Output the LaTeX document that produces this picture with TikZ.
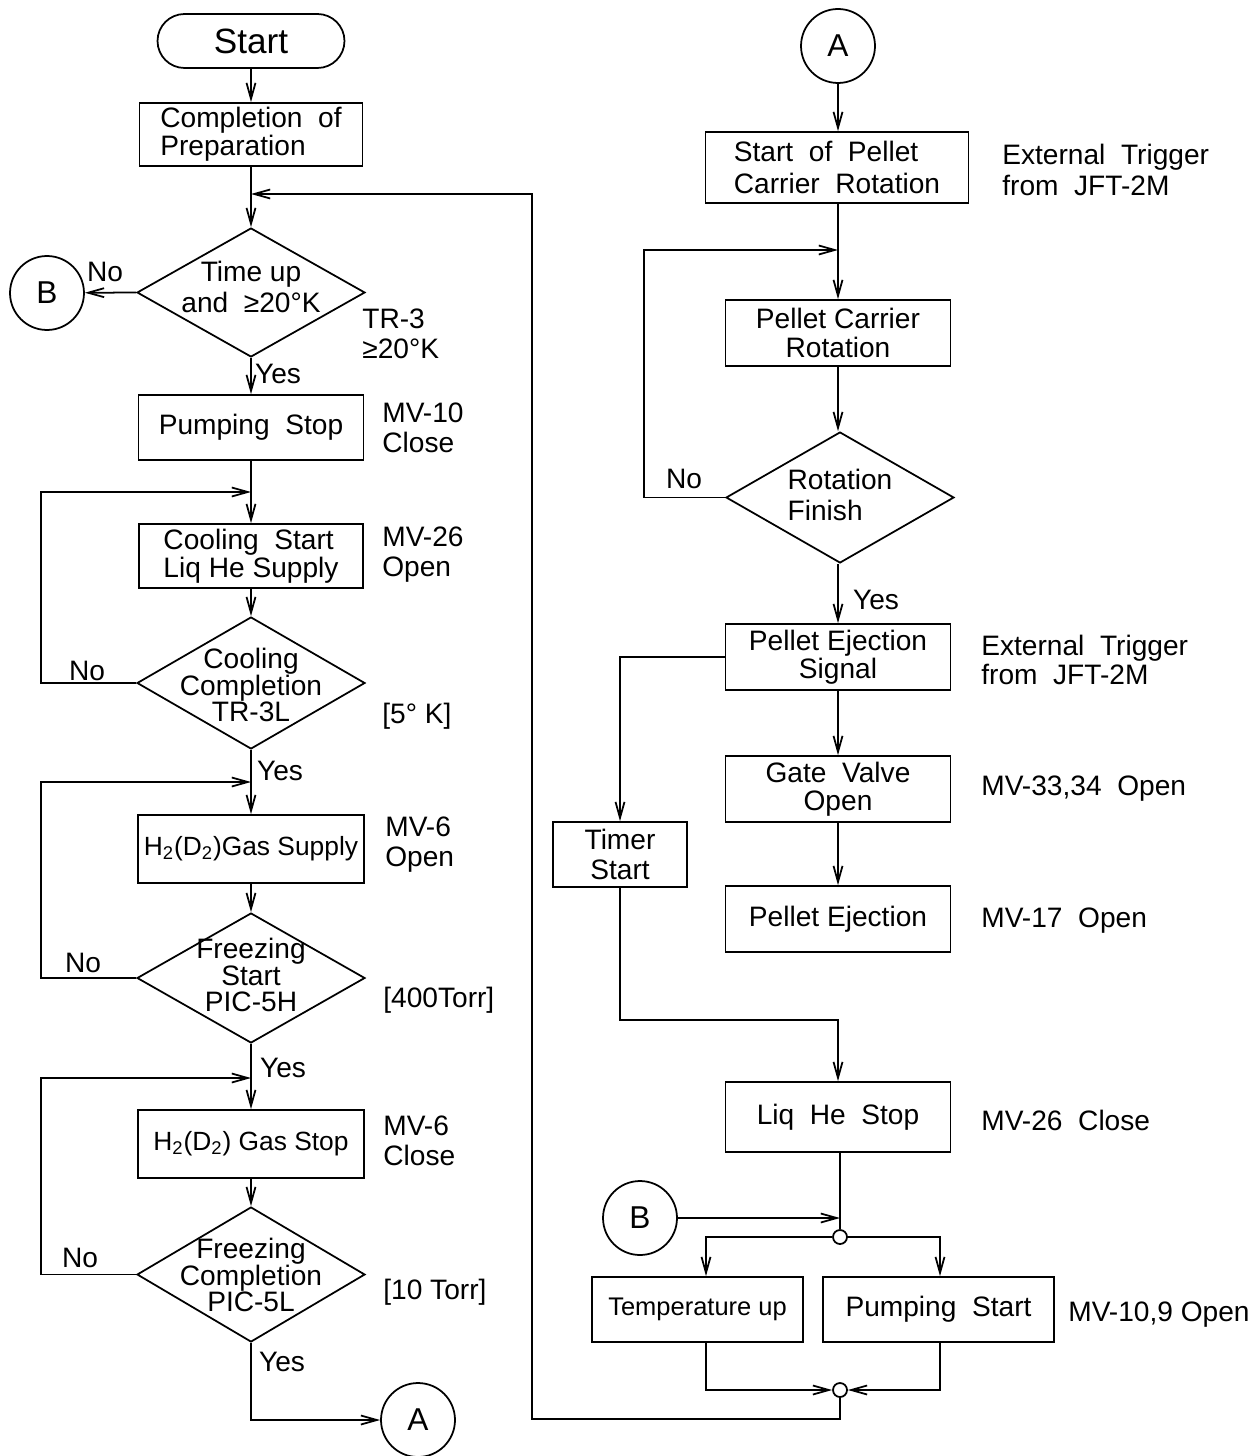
\documentclass[tikz,border=0pt]{standalone}
\usepackage{fontspec}
\setmainfont{Liberation Sans}
\usetikzlibrary{arrows.meta,shapes.geometric,calc}
\begin{document}
\begin{tikzpicture}[x=0.02cm,y=-0.02cm,
  every node/.style={font=\fontsize{16}{14}\selectfont},
  ln/.style={line width=1pt},
  arr/.style={line width=1pt,-{Straight Barb[length=3.2mm,width=1.8mm]}},
  box/.style={draw,line width=1pt,inner sep=0pt,align=center},
  dia/.style={draw,diamond,line width=1pt,inner sep=0pt},
  circ/.style={draw,circle,line width=1pt,minimum size=1.48cm,inner sep=0pt,font=\fontsize{18}{18}\selectfont},
  jc/.style={draw,circle,line width=1pt,minimum size=0.28cm,inner sep=0pt},
  lbl/.style={anchor=west,align=left,inner sep=0pt,font=\fontsize{16}{17}\selectfont},
  dtext/.style={align=center,inner sep=0pt,font=\fontsize{16}{15}\selectfont},
  yn/.style={inner sep=0pt,font=\fontsize{16}{16}\selectfont}]
\useasboundingbox (0,0) rectangle (1260,1456);

% ---------- left column ----------
\node[box,rounded corners=0.54cm,minimum width=3.74cm,minimum height=1.08cm,font=\fontsize{20}{20}\selectfont] (start) at (251,41) {Start};
\node[box,minimum width=4.46cm,minimum height=1.26cm,align=left] (prep) at (251,134.5) {Completion\ \ of\\Preparation};
\coordinate (j1) at (251,194);
\node[dia,minimum width=4.56cm,minimum height=2.58cm] (d1) at (251,292.5) {};
\node[dtext,font=\fontsize{16}{18}\selectfont] (t1) at (251,287) {Time up\\and \ ≥20°K};
\node[circ] (B1) at (47,293) {B};
\node[box,minimum width=4.5cm,minimum height=1.3cm] (pump) at (251,427.5) {Pumping\ \ Stop};
\coordinate (j2) at (251,492);
\node[box,minimum width=4.48cm,minimum height=1.28cm,align=left] (cool) at (251,556) {Cooling\ \ Start\\Liq He Supply};
\node[dia,minimum width=4.56cm,minimum height=2.64cm] (d2) at (251,683) {};
\node[dtext] (t2) at (251,685) {Cooling\\Completion\\TR-3L};
\coordinate (j3) at (251,782);
\node[box,minimum width=4.52cm,minimum height=1.36cm,font=\fontsize{15}{14}\selectfont] (h2a) at (251,849) {H\textsubscript{2}(D\textsubscript{2})Gas Supply};
\node[dia,minimum width=4.56cm,minimum height=2.6cm] (d3) at (251,978) {};
\node[dtext] (t3) at (251,975) {Freezing\\Start\\PIC-5H};
\coordinate (j4) at (251,1078);
\node[box,minimum width=4.52cm,minimum height=1.36cm,font=\fontsize{15}{14}\selectfont] (h2b) at (251,1144) {H\textsubscript{2}(D\textsubscript{2}) Gas Stop};
\node[dia,minimum width=4.56cm,minimum height=2.7cm] (d4) at (251,1274.5) {};
\node[dtext] (t4) at (251,1275) {Freezing\\Completion\\PIC-5L};
\node[circ] (A1) at (418,1420) {A};

% left labels
\node[lbl] (l1) at (362,334) {TR-3\\≥20°K};
\node[lbl] (l2) at (382,428) {MV-10\\Close};
\node[lbl] (l3) at (382,555) {MV-26\\Open};
\node[lbl] (l4) at (382,716) {[5° K]};
\node[lbl] (l5) at (385,845) {MV-6\\Open};
\node[lbl] (l6) at (383,1000) {[400Torr]};
\node[lbl] (l7) at (383,1141) {MV-6\\Close};
\node[lbl] (l8) at (383,1292) {[10 Torr]};

\node[yn] (n1) at (105,272) {No};
\node[yn] (n2) at (87,671) {No};
\node[yn] (n3) at (83,963) {No};
\node[yn] (n4) at (80,1258) {No};
\node[yn] (y1) at (278,374) {Yes};
\node[yn] (y2) at (280,771) {Yes};
\node[yn] (y3) at (283,1068) {Yes};
\node[yn] (y4) at (282,1362) {Yes};

% left connectors
\draw[arr] (start) -- (prep);
\draw[ln] (prep) -- (j1);
\draw[arr] (j1) -- (d1.north);
\draw[arr] (d1.west) -- (B1);
\draw[arr] (d1.south) -- (pump);
\draw[ln] (pump) -- (j2);
\draw[arr] (j2) -- (cool);
\draw[arr] (cool) -- (d2.north);
\draw[arr] (d2.west) -- ++(-95,0) |- (j2);
\draw[ln] (d2.south) -- (j3);
\draw[arr] (j3) -- (h2a);
\draw[arr] (h2a) -- (d3.north);
\draw[arr] (d3.west) -- ++(-95,0) |- (j3);
\draw[ln] (d3.south) -- (j4);
\draw[arr] (j4) -- (h2b);
\draw[arr] (h2b) -- (d4.north);
\draw[arr] (d4.west) -- ++(-95,0) |- (j4);
\draw[arr] (d4.south) |- (A1.west);

% ---------- right column ----------
\node[circ] (A2) at (838,46) {A};
\node[box,minimum width=5.26cm,minimum height=1.42cm,align=left,font=\fontsize{16}{18}\selectfont] (spr) at (837,167.5) {Start\ \ of\ \ Pellet\\Carrier\ \ Rotation};
\coordinate (jr) at (838,250);
\node[box,minimum width=4.5cm,minimum height=1.32cm,font=\fontsize{16}{17}\selectfont] (pcr) at (838,333) {Pellet Carrier\\Rotation};
\node[dia,minimum width=4.56cm,minimum height=2.62cm] (d5) at (840,497.5) {};
\node[dtext,align=left,font=\fontsize{16}{18}\selectfont] (t5) at (840,495) {Rotation\\Finish};
\node[box,minimum width=4.5cm,minimum height=1.32cm,font=\fontsize{16}{16}\selectfont] (pes) at (838,657) {Pellet Ejection\\Signal};
\node[box,minimum width=4.5cm,minimum height=1.32cm,font=\fontsize{16}{16}\selectfont] (gvo) at (838,789) {Gate\ \ Valve\\Open};
\node[box,minimum width=4.5cm,minimum height=1.32cm] (pej) at (838,919) {Pellet Ejection};
\node[box,minimum width=2.68cm,minimum height=1.3cm,font=\fontsize{16}{17}\selectfont] (tim) at (620,854.5) {Timer\\Start};
\node[box,minimum width=4.5cm,minimum height=1.4cm] (lhs) at (838,1117) {Liq\ \ He\ \ Stop};
\coordinate (jb) at (840,1218);
\node[jc] (sc1) at (840,1237) {};
\node[circ] (B2) at (640,1218) {B};
\node[box,minimum width=4.22cm,minimum height=1.3cm,font=\fontsize{14.5}{14}\selectfont] (tup) at (697.5,1309.5) {Temperature up};
\node[box,minimum width=4.62cm,minimum height=1.3cm] (pst) at (938.5,1309.5) {Pumping\ \ Start};
\node[jc] (sc2) at (840,1390) {};

% right labels
\node[lbl,font=\fontsize{16}{18}\selectfont] (r1) at (1002,170) {External\ \ Trigger\\from\ \ JFT-2M};
\node[lbl,font=\fontsize{16}{17}\selectfont] (r2) at (981,660) {External\ \ Trigger\\from\ \ JFT-2M};
\node[lbl] (r3) at (981,789) {MV-33,34\ \ Open};
\node[lbl] (r4) at (981,921) {MV-17\ \ Open};
\node[lbl] (r5) at (981,1120) {MV-26\ \ Close};
\node[lbl] (r6) at (1068,1315) {MV-10,9 Open};
\node[yn] (n5) at (684,479) {No};
\node[yn] (y5) at (876,600) {Yes};

% right connectors
\draw[arr] (A2) -- (spr.north -| A2);
\draw[ln] (spr.south -| jr) -- (jr);
\draw[arr] (jr) -- (pcr);
\draw[arr] (pcr) -- (pcr.south |- d5.north);
\draw[arr] (d5.west) -- ++(-81,0) |- (jr);
\draw[arr] (d5.south -| pes) -- (pes);
\draw[arr] (pes.west) -| (tim.north);
\draw[arr] (pes) -- (gvo);
\draw[arr] (gvo) -- (pej);
\draw[arr] (tim.south) -- ++(0,132) -| (lhs.north);
\draw[ln] (lhs.south -| sc1) -- (sc1);
\draw[arr] (B2) -- (jb);
\draw[arr] (sc1.west) -| ([xshift=0.17cm]tup.north);
\draw[arr] (sc1.east) -| ([xshift=0.03cm]pst.north);
\draw[arr] ([xshift=0.17cm]tup.south) |- (sc2.west);
\draw[arr] ([xshift=0.03cm]pst.south) |- (sc2.east);
\draw[arr] (sc2.south) -- ++(0,21) -- ++(-308,0) |- (j1);
\end{tikzpicture}
\end{document}
